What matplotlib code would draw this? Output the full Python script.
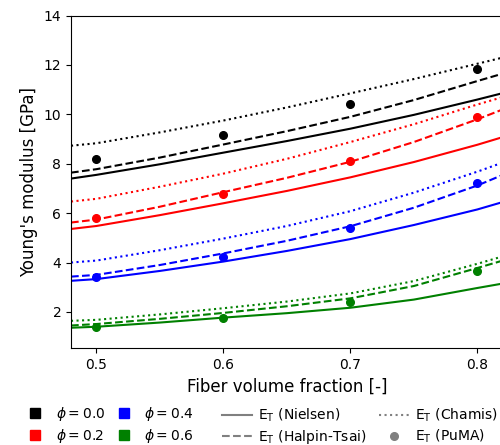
import numpy as np
import matplotlib
matplotlib.use('Agg')
import matplotlib.pyplot as plt
from matplotlib.lines import Line2D

# fibre volume fractions where the model curves are evaluated
vf = [0.48, 0.50, 0.55, 0.60, 0.65, 0.70, 0.75, 0.80, 0.82]
vf_puma = [0.5, 0.6, 0.7, 0.8]

phis = [0.0, 0.2, 0.4, 0.6]
colors = ['black', 'red', 'blue', 'green']

# transverse modulus [GPa], one row per porosity phi
E_nielsen = [
    [7.40, 7.55, 7.98, 8.45, 8.92, 9.42, 9.98, 10.60, 10.86],
    [5.36, 5.48, 5.92, 6.40, 6.90, 7.45, 8.07, 8.77, 9.08],
    [3.26, 3.33, 3.66, 4.04, 4.47, 4.95, 5.52, 6.15, 6.45],
    [1.36, 1.40, 1.57, 1.77, 1.95, 2.17, 2.50, 2.97, 3.15],
]
E_halpin = [
    [7.64, 7.78, 8.25, 8.78, 9.32, 9.90, 10.58, 11.35, 11.65],
    [5.62, 5.74, 6.26, 6.85, 7.43, 8.08, 8.88, 9.80, 10.20],
    [3.43, 3.50, 3.90, 4.37, 4.88, 5.47, 6.22, 7.12, 7.55],
    [1.45, 1.51, 1.72, 1.96, 2.23, 2.55, 3.05, 3.78, 4.08],
]
E_chamis = [
    [8.73, 8.83, 9.27, 9.75, 10.28, 10.85, 11.43, 12.05, 12.30],
    [6.47, 6.58, 7.07, 7.60, 8.20, 8.88, 9.60, 10.40, 10.70],
    [4.00, 4.08, 4.50, 4.97, 5.48, 6.08, 6.83, 7.68, 8.05],
    [1.64, 1.68, 1.90, 2.15, 2.42, 2.75, 3.25, 3.95, 4.25],
]
E_puma = [
    [8.19, 9.18, 10.40, 11.85],
    [5.79, 6.79, 8.10, 9.88],
    [3.43, 4.22, 5.39, 7.22],
    [1.39, 1.77, 2.40, 3.66],
]

fig = plt.figure(figsize=(5, 4.45), dpi=100)
ax = fig.add_axes([0.142, 0.218, 0.8636, 0.747])

for i in range(len(phis)):
    c = colors[i]
    ax.plot(vf, E_nielsen[i], '-', color=c, lw=1.5)
    ax.plot(vf, E_halpin[i], '--', color=c, lw=1.5)
    ax.plot(vf, E_chamis[i], ':', color=c, lw=1.5)
    ax.plot(vf_puma, E_puma[i], 'o', color=c, ms=5.5)

ax.set_xlim(0.48, 0.82)
ax.set_ylim(0.54, 14)
ax.set_xticks([0.5, 0.6, 0.7, 0.8])
ax.set_yticks([2, 4, 6, 8, 10, 12, 14])
ax.tick_params(labelsize=10)
ax.set_xlabel('Fiber volume fraction [-]', fontsize=12)
ax.set_ylabel("Young's modulus [GPa]", fontsize=12)

# porosity legend
phi_handles = [Line2D([], [], ls='none', marker='s', color=colors[i], ms=7,
                      label=r'$\phi = %.1f$' % phis[i]) for i in range(len(phis))]
fig.legend(handles=phi_handles, loc='upper left', bbox_to_anchor=(0.028, 0.103),
           ncol=2, frameon=False, fontsize=10, handlelength=2.2, handletextpad=0.4,
           columnspacing=0.25, borderaxespad=0, labelspacing=0.3)

# model legend
model_handles = [
    Line2D([], [], ls='-', color='gray', lw=1.5, label=r'E$_\mathrm{T}$ (Nielsen)'),
    Line2D([], [], ls='--', color='gray', lw=1.5, label=r'E$_\mathrm{T}$ (Halpin-Tsai)'),
    Line2D([], [], ls=':', color='gray', lw=1.5, label=r'E$_\mathrm{T}$ (Chamis)'),
    Line2D([], [], ls='none', marker='o', color='gray', ms=5.5, label=r'E$_\mathrm{T}$ (PuMA)'),
]
fig.legend(handles=model_handles, loc='upper left', bbox_to_anchor=(0.432, 0.099),
           ncol=2, frameon=False, fontsize=10, handlelength=2.2, handletextpad=0.4,
           columnspacing=0.9, borderaxespad=0, labelspacing=0.3)

fig.savefig('out.png', dpi=100)
